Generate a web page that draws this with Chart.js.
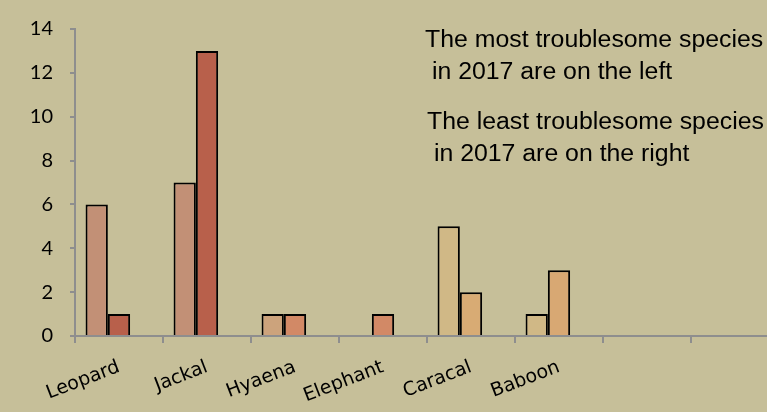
<!DOCTYPE html>
<html>
<head>
<meta charset="utf-8">
<script src="https://cdn.jsdelivr.net/npm/chart.js@4.4.1/dist/chart.umd.min.js"></script>
<style>
  html, body { margin: 0; padding: 0; overflow: hidden; background: #C6BF99; }
  #wrap { position: relative; width: 782px; height: 412px; }
</style>
</head>
<body>
<div id="wrap"><canvas id="chart"></canvas></div>
<script>
    "use strict";

    // Species and problem counts
    var species = ["Leopard", "Jackal", "Hyaena", "Elephant", "Caracal", "Baboon", "", ""];
    var countsA = [6, 7, 1, null, 5, 1, null, null];
    var countsB = [1, 13, 1, 1, 2, 3, null, null];
    var countsC = [null, null, null, null, null, null, null, null];
    var yTicks = [0, 2, 4, 6, 8, 10, 12, 14];

    // Each species gets its own pair of shades
    var shadesA = ["#C29076", "#C29076", "#CCA37C", "#CCA37C", "#D0B886", "#D0B886", "#D0B886", "#D0B886"];
    var shadesB = ["#B8604B", "#B8604B", "#D28966", "#D28966", "#D8AB74", "#D8A873", "#D8A873", "#D8A873"];

    var notes = [
        ["The most troublesome species", " in 2017 are on the left"],
        ["The least troublesome species", " in 2017 are on the right"]
    ];

    // Text block in the upper right
    var notesPlugin = {
        id: "notes",
        afterDraw: function (chart) {
            var ctx = chart.ctx;
            var lines = [
                { t: notes[0][0], x: 425, y: 47 },
                { t: notes[0][1], x: 425, y: 79 },
                { t: notes[1][0], x: 427, y: 129 },
                { t: notes[1][1], x: 427, y: 161 }
            ];
            ctx.save();
            ctx.fillStyle = "#000000";
            ctx.font = "23px 'Liberation Sans', Arial, sans-serif";
            ctx.textBaseline = "alphabetic";
            lines.forEach(function (l) {
                ctx.save();
                ctx.translate(l.x, l.y);
                ctx.scale(1.08, 1);
                ctx.fillText(l.t, 0, 0);
                ctx.restore();
            });
            ctx.restore();
        }
    };

    var ctx = document.getElementById("chart").getContext("2d");
    new Chart(ctx, {
        type: "bar",
        data: {
            labels: species,
            datasets: [
                { label: "A", data: countsA, backgroundColor: shadesA, borderColor: "#000000", borderWidth: 2, borderSkipped: "bottom" },
                { label: "B", data: countsB, backgroundColor: shadesB, borderColor: "#000000", borderWidth: 2, borderSkipped: "bottom" },
                { label: "C", data: countsC, backgroundColor: "#D8A873", borderColor: "#000000", borderWidth: 2 }
            ]
        },
        options: {
            responsive: true,
            maintainAspectRatio: false,
            animation: false,
            categoryPercentage: 0.76,
            barPercentage: 1.0,
            layout: { padding: { top: 29, right: 3, left: 0, bottom: 0 } },
            plugins: {
                legend: { display: false },
                tooltip: { enabled: false }
            },
            scales: {
                x: {
                    grid: { display: true, offset: true, drawOnChartArea: false, drawTicks: true, tickLength: 7, color: "#8E8E8E", lineWidth: 2 },
                    border: { display: true, color: "#8E8E8E", width: 2 },
                    ticks: {
                        color: "#000000",
                        font: { family: "'DejaVu Sans', Verdana, sans-serif", size: 19 },
                        minRotation: 21,
                        maxRotation: 21,
                        autoSkip: false,
                        padding: 13
                    },
                    afterFit: function (scale) { scale.height = 76; }
                },
                y: {
                    min: 0,
                    max: 14,
                    afterBuildTicks: function (scale) {
                        scale.ticks = yTicks.map(function (v) { return { value: v }; });
                    },
                    grid: { display: true, drawOnChartArea: false, drawTicks: true, tickLength: 5, color: "#8E8E8E", lineWidth: 2 },
                    border: { display: true, color: "#8E8E8E", width: 2 },
                    ticks: {
                        color: "#000000",
                        font: { family: "Lato, 'Open Sans', sans-serif", size: 20 },
                        padding: 17
                    },
                    afterFit: function (scale) { scale.width = 75; }
                }
            }
        },
        plugins: [notesPlugin]
    });
</script>
</body>
</html>
